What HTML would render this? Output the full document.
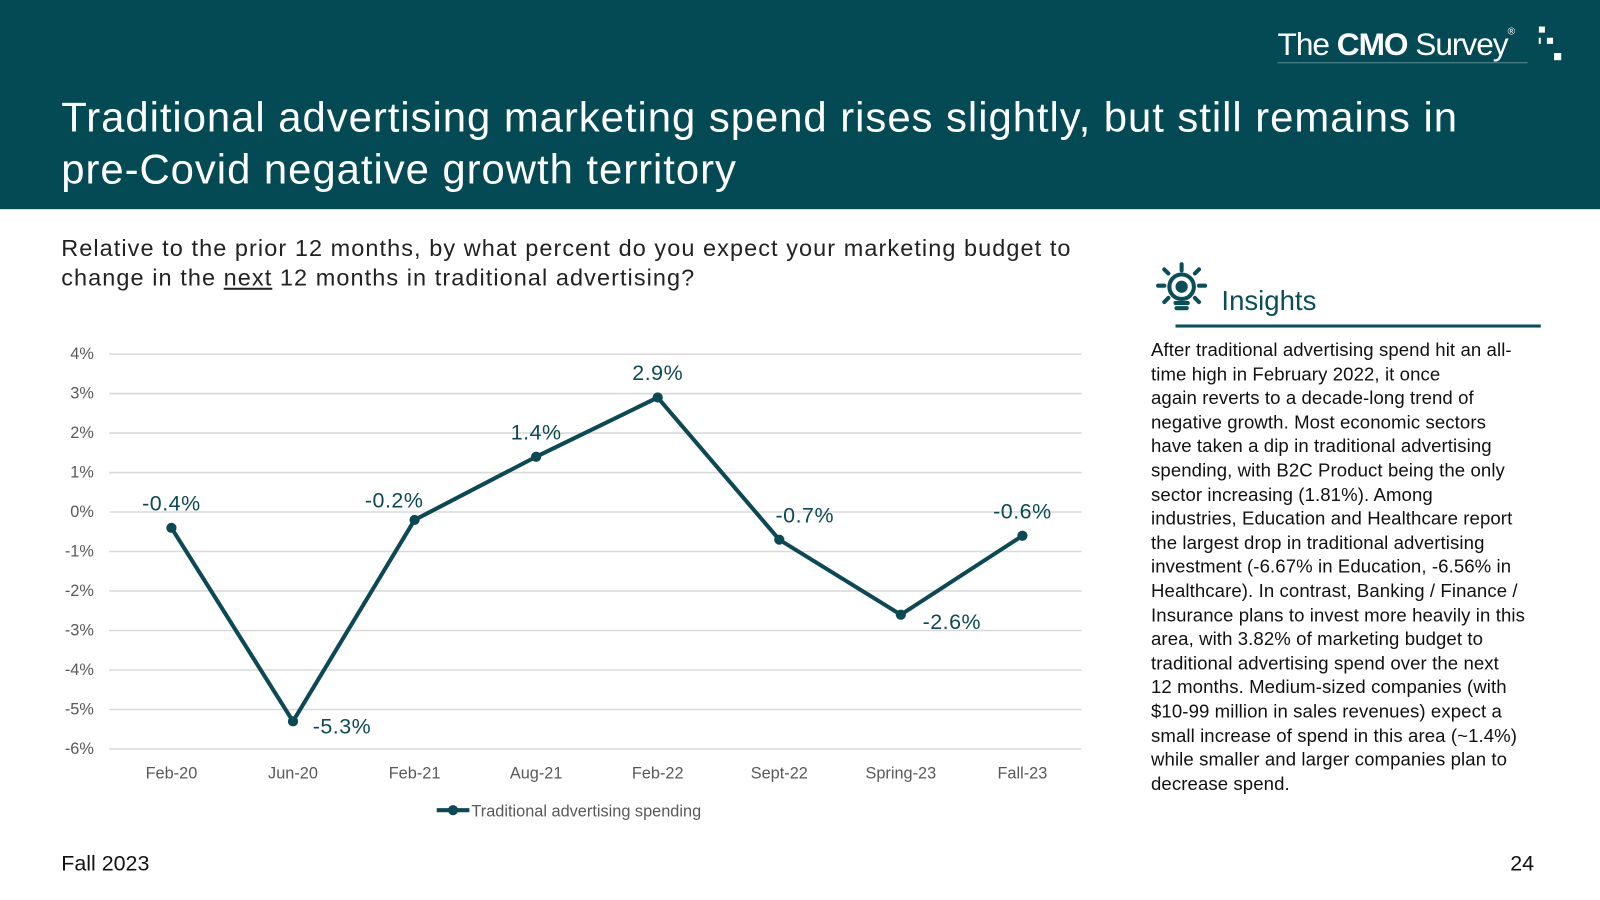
<!DOCTYPE html>
<html><head><meta charset="utf-8"><style>
body{margin:0;width:1600px;height:900px;position:relative;background:#fff;font-family:"Liberation Sans",sans-serif;overflow:hidden}
#wrap{position:absolute;left:0;top:0;width:1568px;height:882px;transform:scale(1.0204);transform-origin:0 0}
.hdr{position:absolute;left:0;top:0;width:1600px;height:205px;background:#034a55}
.title{position:absolute;left:60px;top:90px;color:#fff;font-size:41px;line-height:51px;white-space:nowrap;letter-spacing:0.95px}
.logo{position:absolute;left:1252px;top:26px;color:#fff;font-size:31px;letter-spacing:-1px}
.q{position:absolute;left:60px;top:229px;font-size:23px;line-height:29px;color:#222;white-space:nowrap;letter-spacing:1.05px}
.ins-t{position:absolute;left:1197px;top:280px;font-size:27px;color:#0a4e5a}
.ins-line{position:absolute;left:1152px;top:318px;width:358px;height:3px;background:#0a4e5a}
.ins{position:absolute;left:1128px;top:332px;font-size:18.2px;line-height:23.6px;color:#111;white-space:nowrap;letter-spacing:0.1px}
.foot{position:absolute;top:835px;font-size:21px;color:#111}
</style></head><body>
<div id="wrap">
<div class="hdr"></div>
<div class="logo">The <b>CMO</b> Survey<span style="font-size:10px;vertical-align:top">®</span></div>
<svg style="position:absolute;left:1508px;top:26px" width="24" height="36"><rect x="0" y="0" width="6" height="6" fill="#fff"/><rect x="-4" y="11" width="6" height="6" fill="#fff"/><rect x="8" y="11" width="6" height="6" fill="#fff"/><rect x="15" y="26" width="7" height="7" fill="#fff"/></svg>
<div style="position:absolute;left:1252px;top:61px;width:245px;height:1px;background:#5f8a90"></div>
<div class="title">Traditional advertising marketing spend rises slightly, but still remains in<br>pre-Covid negative growth territory</div>
<div class="q">Relative to the prior 12 months, by what percent do you expect your marketing budget to<br>change in the <u>next</u> 12 months in traditional advertising?</div>
<svg style="position:absolute;left:1130px;top:256px" width="56" height="56" viewBox="0 0 56 56">
<g stroke="#0a4e5a" stroke-width="4" stroke-linecap="round" fill="none">
<line x1="28" y1="3" x2="28" y2="9"/><line x1="5" y1="24" x2="11" y2="24"/><line x1="45" y1="24" x2="51" y2="24"/><line x1="11" y1="8" x2="15" y2="12"/><line x1="45" y1="8" x2="41" y2="12"/><line x1="11" y1="40" x2="15" y2="36"/><line x1="45" y1="40" x2="41" y2="36"/>
<circle cx="28" cy="25" r="12"/><circle cx="28" cy="25" r="4" fill="#0a4e5a"/><line x1="22" y1="41" x2="34" y2="41"/><line x1="23" y1="46" x2="33" y2="46"/></g></svg>
<div class="ins-t">Insights</div>
<div class="ins-line"></div>
<div class="ins">After traditional advertising spend hit an all-<br>time high in February 2022, it once<br>again reverts to a decade-long trend of<br>negative growth. Most economic sectors<br>have taken a dip in traditional advertising<br>spending, with B2C Product being the only<br>sector increasing (1.81%). Among<br>industries, Education and Healthcare report<br>the largest drop in traditional advertising<br>investment (-6.67% in Education, -6.56% in<br>Healthcare). In contrast, Banking / Finance /<br>Insurance plans to invest more heavily in this<br>area, with 3.82% of marketing budget to<br>traditional advertising spend over the next<br>12 months. Medium-sized companies (with<br>$10-99 million in sales revenues) expect a<br>small increase of spend in this area (~1.4%)<br>while smaller and larger companies plan to<br>decrease spend.</div>
<div class="foot" style="left:60px">Fall 2023</div>
<div class="foot" style="left:1480px">24</div>
<svg id="chart" style="position:absolute;left:0;top:0" width="1100" height="830"></svg>
</div>
<script>
const categories=["Feb-20","Jun-20","Feb-21","Aug-21","Feb-22","Sept-22","Spring-23","Fall-23"];
const values=[-0.4,-5.3,-0.2,1.4,2.9,-0.7,-2.6,-0.6];
const labels=["-0.4%","-5.3%","-0.2%","1.4%","2.9%","-0.7%","-2.6%","-0.6%"];
const ticks=[4,3,2,1,0,-1,-2,-3,-4,-5,-6];
const seriesName="Traditional advertising spending";
const NS="http://www.w3.org/2000/svg",svg=document.getElementById("chart");
const y=v=>501.8-v*38.7, x=i=>168+i*119.14;
function mk(t,a,txt){const e=document.createElementNS(NS,t);for(const k in a)e.setAttribute(k,a[k]);if(txt!=null)e.textContent=txt;svg.appendChild(e);return e;}
ticks.forEach(t=>{
 const g=mk("line",{x1:107,x2:1060,y1:y(t),y2:y(t),stroke:"#d9d9d9","stroke-width":1.5});
 
 
 const l=mk("text",{x:92,y:y(t)+5,"text-anchor":"end","font-size":16,fill:"#595959","font-family":"Liberation Sans"},t+"%");
 
 
});
categories.forEach((c,i)=>{
 const l=mk("text",{x:x(i),y:763,"text-anchor":"middle","font-size":16,fill:"#595959","font-family":"Liberation Sans"},c);
 
 
});
const line=mk("polyline",{points:values.map((v,i)=>x(i)+","+y(v)).join(" "),fill:"none",stroke:"#0b4a55","stroke-width":4,"stroke-linejoin":"round"});


const off=[[0,-17],[48,12],[-20,-12],[0,-17],[0,-17],[25,-17],[50,14],[0,-17]];
values.forEach((v,i)=>{
 const p=mk("circle",{cx:x(i),cy:y(v),r:5,fill:"#0b4a55"});
 
 
 const t=mk("text",{x:x(i)+off[i][0],y:y(v)+off[i][1],"text-anchor":"middle","font-size":21,fill:"#0b4a55","font-family":"Liberation Sans","letter-spacing":0.5},labels[i]);
 
 
});
const lg=mk("line",{x1:428,x2:460,y1:794,y2:794,stroke:"#0b4a55","stroke-width":4});


const lc=mk("circle",{cx:444,cy:794,r:5,fill:"#0b4a55"});


const lt=mk("text",{x:462,y:800,"font-size":16,fill:"#595959","font-family":"Liberation Sans"},seriesName);


</script>
</body></html>
